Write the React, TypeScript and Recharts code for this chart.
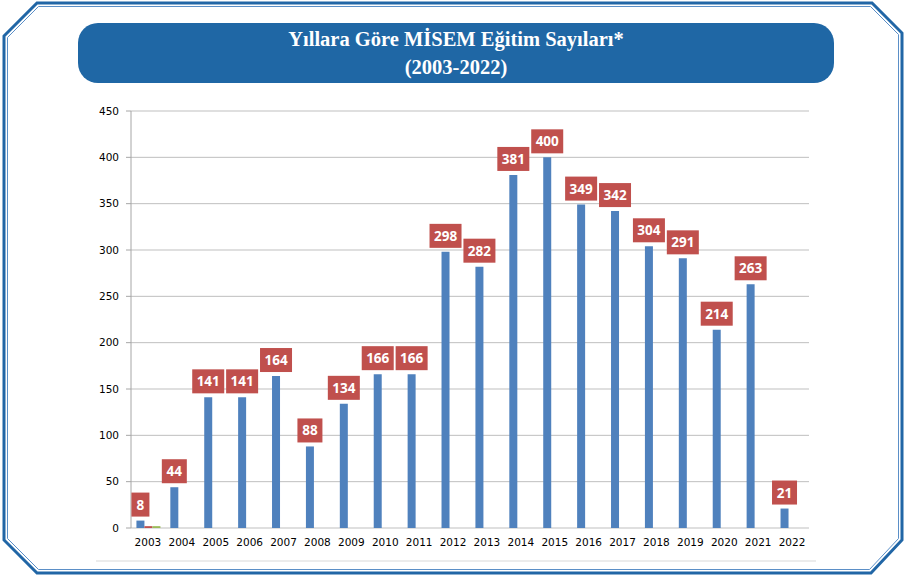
import { Bar, BarChart, CartesianGrid, LabelList, XAxis, YAxis } from "recharts";

// Values.
const years = [
  "2003", "2004", "2005", "2006", "2007", "2008", "2009", "2010", "2011", "2012",
  "2013", "2014", "2015", "2016", "2017", "2018", "2019", "2020", "2021", "2022",
];
const egitimSayisi = [8, 44, 141, 141, 164, 88, 134, 166, 166, 298, 282, 381, 400, 349, 342, 304, 291, 214, 263, 21];
// two tiny extra series only visible in 2003
const seriKirmizi = [2, 0, 0, 0, 0, 0, 0, 0, 0, 0, 0, 0, 0, 0, 0, 0, 0, 0, 0, 0];
const seriYesil = [2, 0, 0, 0, 0, 0, 0, 0, 0, 0, 0, 0, 0, 0, 0, 0, 0, 0, 0, 0];
const yTicks = [0, 50, 100, 150, 200, 250, 300, 350, 400, 450];
const boundaryTicks = years.map((_, i) => i).concat([years.length]);

const data = years.map((year, i) => ({
  year,
  a: egitimSayisi[i],
  b: seriKirmizi[i],
  c: seriYesil[i],
}));

const AXIS_FONT = { fontFamily: "DejaVu Sans", fontSize: 10.5, fill: "#000" };

// Red box with the value, sitting just above the blue bar.
function ValueBox(props: any) {
  const { x, y, width, value } = props;
  const text = String(value);
  const w = 11 + text.length * 7;
  const h = 24;
  const cx = Number(x) + Number(width) / 2;
  const bottom = Number(y) - 4;
  return (
    <g>
      <rect x={cx - w / 2} y={bottom - h} width={w} height={h} fill="#c0504d" />
      <text
        x={cx}
        y={bottom - h / 2}
        textAnchor="middle"
        dominantBaseline="central"
        fill="#fff"
        fontFamily="Noto Sans"
        fontWeight="bold"
        fontSize={13.5}
      >
        {text}
      </text>
    </g>
  );
}

function Frame() {
  // octagonal double border with chamfered corners
  const outer = "M4,36 L37,3 L872,3 L902,33 L902,540 L871,573 L37,573 L4,540 Z";
  const inner = "M7.5,37.5 L38.5,6.5 L870.5,6.5 L898.5,34.5 L898.5,538.5 L869.5,569.5 L38.5,569.5 L7.5,538.5 Z";
  return (
    <svg width={905} height={577} style={{ position: "absolute", left: 0, top: 0 }}>
      <path d={outer} fill="#fff" stroke="#2166a6" strokeWidth={3} />
      <path d={inner} fill="none" stroke="#5b8fc7" strokeWidth={1} />
      <line x1={96} y1={561} x2={816} y2={561} stroke="#d9d9d9" strokeWidth={1} />
    </svg>
  );
}

export default function App() {
  return (
    <div style={{ position: "absolute", left: 0, top: 0, width: 905, height: 577, background: "#fff" }}>
      <Frame />
      <div
        style={{
          position: "absolute",
          left: 78,
          top: 23,
          width: 756,
          height: 60,
          borderRadius: 20,
          background: "#1f67a5",
          color: "#fff",
          fontFamily: "Liberation Serif",
          fontWeight: "bold",
          fontSize: 20.5,
          lineHeight: "28px",
          textAlign: "center",
          display: "flex",
          flexDirection: "column",
          justifyContent: "center",
        }}
      >
        <div>Yıllara Göre MİSEM Eğitim Sayıları*</div>
        <div>(2003-2022)</div>
      </div>
      <div style={{ position: "absolute", left: 0, top: 0 }}>
        <BarChart
          width={905}
          height={577}
          data={data}
          margin={{ top: 111, right: 96, bottom: 19, left: 81 }}
          barCategoryGap="16%"
          barGap={0}
        >
          <CartesianGrid horizontal vertical={false} stroke="#bfbfbf" />
          <XAxis
            xAxisId="edges"
            type="number"
            domain={[0, years.length]}
            ticks={boundaryTicks}
            tick={false}
            tickSize={5}
            height={0}
            axisLine={{ stroke: "#a6a6a6" }}
            tickLine={{ stroke: "#a6a6a6" }}
            allowDataOverflow
          />
          <XAxis
            dataKey="year"
            axisLine={false}
            tickLine={false}
            tickSize={6}
            tickMargin={5}
            interval={0}
            height={30}
            tick={AXIS_FONT}
          />
          <YAxis
            domain={[0, 450]}
            ticks={yTicks}
            width={50}
            tickSize={5}
            tickMargin={7}
            axisLine={{ stroke: "#a6a6a6" }}
            tickLine={{ stroke: "#a6a6a6" }}
            tick={AXIS_FONT}
          />
          <Bar dataKey="a" fill="#4f81bd" isAnimationActive={false}>
            <LabelList dataKey="a" content={ValueBox} />
          </Bar>
          <Bar dataKey="b" fill="#c0504d" isAnimationActive={false} />
          <Bar dataKey="c" fill="#9bbb59" isAnimationActive={false} />
        </BarChart>
      </div>
    </div>
  );
}
